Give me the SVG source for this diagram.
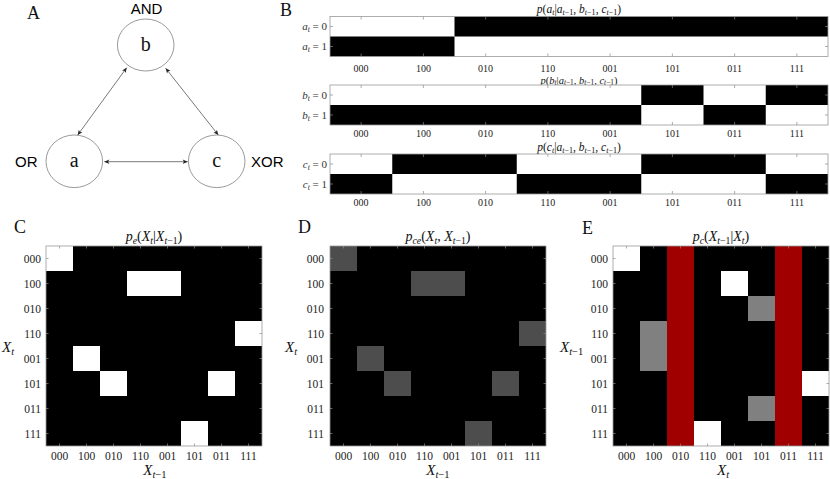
<svg xmlns="http://www.w3.org/2000/svg" xmlns:xlink="http://www.w3.org/1999/xlink" width="830" height="479" viewBox="0 0 830 479">
<style>
.tx{font-family:"Liberation Serif","Times New Roman",serif;fill:#111}
.sans{font-family:"Liberation Sans",Arial,sans-serif;fill:#000;font-size:15px}
.i{font-style:italic}
.sb{font-size:70%}
.lt{font-size:18px}
.bt{font-size:11.5px;text-anchor:middle}
.rl{font-size:11px;text-anchor:end;fill:#333}
.tk{font-size:10px;text-anchor:middle;fill:#222}
.mt{font-size:14px;text-anchor:middle}
.mk{font-size:11.5px;fill:#222}
.ax{font-size:15px}
.node{fill:#fff;stroke:#808080;stroke-width:0.8}
.nl{font-size:20px;text-anchor:middle}
.edge{stroke:#555;stroke-width:0.8;fill:none;marker-start:url(#ah);marker-end:url(#ah)}
.frame{fill:none;stroke:#999;stroke-width:0.8}
.tick{fill:none;stroke:#888;stroke-width:0.7}
.blk{fill:#000}
.wht{fill:#fff}
.g1{fill:#4d4d4d}
.g2{fill:#808080}
.red{fill:#a00000}
</style>
<defs>
<marker id="ah" viewBox="0 0 10 10" refX="10" refY="5" markerWidth="7" markerHeight="5" orient="auto-start-reverse" markerUnits="userSpaceOnUse">
<path d="M0,0.5 L10,5 L0,9.5 L2.5,5 z" fill="#222"/>
</marker>
<path id="stripTicks" class="tick" d="M31.125,0v3m62.25,-3v3m62.25,-3v3m62.25,-3v3m62.25,-3v3m62.25,-3v3m62.25,-3v3m62.25,-3v3 M31.125,40v-3m62.25,3v-3m62.25,3v-3m62.25,3v-3m62.25,3v-3m62.25,3v-3m62.25,3v-3m62.25,3v-3 M0,10h3m-3,20h3 M498,10h-3m3,20h-3"/>
<path id="matTicks" class="tick" d="M13.5,0v2.5m27,-2.5v2.5m27,-2.5v2.5m27,-2.5v2.5m27,-2.5v2.5m27,-2.5v2.5m27,-2.5v2.5m27,-2.5v2.5 M13.5,200v-2.5m27,2.5v-2.5m27,2.5v-2.5m27,2.5v-2.5m27,2.5v-2.5m27,2.5v-2.5m27,2.5v-2.5m27,2.5v-2.5 M0,12.5h2.5m-2.5,25h2.5m-2.5,25h2.5m-2.5,25h2.5m-2.5,25h2.5m-2.5,25h2.5m-2.5,25h2.5m-2.5,25h2.5 M216,12.5h-2.5m2.5,25h-2.5m2.5,25h-2.5m2.5,25h-2.5m2.5,25h-2.5m2.5,25h-2.5m2.5,25h-2.5m2.5,25h-2.5"/>
</defs>
<rect width="830" height="479" fill="#fff"/>

<!-- Panel A -->
<g id="panelA">
<text class="tx lt" x="27" y="19">A</text>
<g id="connectors">
<line class="edge" x1="126.7" y1="67.7" x2="77.7" y2="135"/>
<line class="edge" x1="165.7" y1="68.3" x2="218.3" y2="135"/>
<line class="edge" x1="104.3" y1="161.7" x2="187.7" y2="161.7"/>
</g>
<g id="node-b">
<ellipse class="node" cx="145.7" cy="45" rx="28.3" ry="26"/>
<text class="tx nl" x="145.7" y="51">b</text>
<text class="sans" x="146.5" y="13.5" text-anchor="middle">AND</text>
</g>
<g id="node-a">
<ellipse class="node" cx="74.3" cy="161.3" rx="28.3" ry="26.3"/>
<text class="tx nl" x="74.3" y="167">a</text>
<text class="sans" x="15" y="167">OR</text>
</g>
<g id="node-c">
<ellipse class="node" cx="216.7" cy="161.3" rx="28.3" ry="26.3"/>
<text class="tx nl" x="216.7" y="167">c</text>
<text class="sans" x="251" y="167">XOR</text>
</g>
</g>

<!-- Panel B -->
<g id="panelB">
<text class="tx lt" x="280" y="16">B</text>
<!-- strip 1 -->
<g id="strip-a">
<text class="tx bt" x="579" y="12.5"><tspan class="i">p</tspan>(<tspan class="i">a</tspan><tspan class="sb i" dy="2">t</tspan><tspan dy="-2">|</tspan><tspan class="i">a</tspan><tspan class="sb" dy="2"><tspan class="i">t</tspan>−1</tspan><tspan dy="-2">, </tspan><tspan class="i">b</tspan><tspan class="sb" dy="2"><tspan class="i">t</tspan>−1</tspan><tspan dy="-2">, </tspan><tspan class="i">c</tspan><tspan class="sb" dy="2"><tspan class="i">t</tspan>−1</tspan><tspan dy="-2">)</tspan></text>
<rect class="wht" x="330" y="16.5" width="498" height="40"/>
<rect class="blk" x="454.5" y="16.5" width="373.5" height="20"/>
<rect class="blk" x="330" y="36.5" width="124.5" height="20"/>
<use xlink:href="#stripTicks" x="330" y="16.5"/>
<rect class="frame" x="330" y="16.5" width="498" height="40"/>
<text class="tx rl" x="327" y="30"><tspan class="i">a</tspan><tspan class="sb i" dy="2">t</tspan><tspan dy="-2"> = 0</tspan></text>
<text class="tx rl" x="327" y="50"><tspan class="i">a</tspan><tspan class="sb i" dy="2">t</tspan><tspan dy="-2"> = 1</tspan></text>
<g class="tx tk"><text x="361.1" y="71.5">000</text><text x="423.4" y="71.5">100</text><text x="485.6" y="71.5">010</text><text x="547.9" y="71.5">110</text><text x="610.1" y="71.5">001</text><text x="672.4" y="71.5">101</text><text x="734.6" y="71.5">011</text><text x="796.9" y="71.5">111</text></g>
</g>
<!-- strip 2 -->
<g id="strip-b">
<text class="tx bt" x="579" y="84" style="font-size:10.5px"><tspan class="i">p</tspan>(<tspan class="i">b</tspan><tspan class="sb i" dy="1">t</tspan><tspan dy="-1">|</tspan><tspan class="i">a</tspan><tspan class="sb" dy="1"><tspan class="i">t</tspan>−1</tspan><tspan dy="-1">, </tspan><tspan class="i">b</tspan><tspan class="sb" dy="1"><tspan class="i">t</tspan>−1</tspan><tspan dy="-1">, </tspan><tspan class="i">c</tspan><tspan class="sb" dy="1"><tspan class="i">t</tspan>−1</tspan><tspan dy="-1">)</tspan></text>
<rect class="wht" x="330" y="85" width="498" height="40"/>
<rect class="blk" x="641.25" y="85" width="62.25" height="20"/>
<rect class="blk" x="765.75" y="85" width="62.25" height="20"/>
<rect class="blk" x="330" y="105" width="311.25" height="20"/>
<rect class="blk" x="703.5" y="105" width="62.25" height="20"/>
<use xlink:href="#stripTicks" x="330" y="85"/>
<rect class="frame" x="330" y="85" width="498" height="40"/>
<text class="tx rl" x="327" y="98.5"><tspan class="i">b</tspan><tspan class="sb i" dy="2">t</tspan><tspan dy="-2"> = 0</tspan></text>
<text class="tx rl" x="327" y="118.5"><tspan class="i">b</tspan><tspan class="sb i" dy="2">t</tspan><tspan dy="-2"> = 1</tspan></text>
<g class="tx tk"><text x="361.1" y="137">000</text><text x="423.4" y="137">100</text><text x="485.6" y="137">010</text><text x="547.9" y="137">110</text><text x="610.1" y="137">001</text><text x="672.4" y="137">101</text><text x="734.6" y="137">011</text><text x="796.9" y="137">111</text></g>
</g>
<!-- strip 3 -->
<g id="strip-c">
<text class="tx bt" x="579" y="150.5"><tspan class="i">p</tspan>(<tspan class="i">c</tspan><tspan class="sb i" dy="2">t</tspan><tspan dy="-2">|</tspan><tspan class="i">a</tspan><tspan class="sb" dy="2"><tspan class="i">t</tspan>−1</tspan><tspan dy="-2">, </tspan><tspan class="i">b</tspan><tspan class="sb" dy="2"><tspan class="i">t</tspan>−1</tspan><tspan dy="-2">, </tspan><tspan class="i">c</tspan><tspan class="sb" dy="2"><tspan class="i">t</tspan>−1</tspan><tspan dy="-2">)</tspan></text>
<rect class="wht" x="330" y="154" width="498" height="40"/>
<rect class="blk" x="392.25" y="154" width="124.5" height="20"/>
<rect class="blk" x="641.25" y="154" width="124.5" height="20"/>
<rect class="blk" x="330" y="174" width="62.25" height="20"/>
<rect class="blk" x="516.75" y="174" width="124.5" height="20"/>
<rect class="blk" x="765.75" y="174" width="62.25" height="20"/>
<use xlink:href="#stripTicks" x="330" y="154"/>
<rect class="frame" x="330" y="154" width="498" height="40"/>
<text class="tx rl" x="327" y="167.5"><tspan class="i">c</tspan><tspan class="sb i" dy="2">t</tspan><tspan dy="-2"> = 0</tspan></text>
<text class="tx rl" x="327" y="187.5"><tspan class="i">c</tspan><tspan class="sb i" dy="2">t</tspan><tspan dy="-2"> = 1</tspan></text>
<g class="tx tk"><text x="361.1" y="206">000</text><text x="423.4" y="206">100</text><text x="485.6" y="206">010</text><text x="547.9" y="206">110</text><text x="610.1" y="206">001</text><text x="672.4" y="206">101</text><text x="734.6" y="206">011</text><text x="796.9" y="206">111</text></g>
</g>
</g>

<!-- Panel C -->
<g id="panelC">
<text class="tx lt" x="14" y="233">C</text>
<text class="tx mt" x="154" y="241"><tspan class="i">p</tspan><tspan class="sb i" dy="3">e</tspan><tspan dy="-3">(</tspan><tspan class="i">X</tspan><tspan class="sb i" dy="3">t</tspan><tspan dy="-3">|</tspan><tspan class="i">X</tspan><tspan class="sb" dy="3"><tspan class="i">t</tspan>−1</tspan><tspan dy="-3">)</tspan></text>
<rect class="blk" x="46" y="246" width="216" height="200"/>
<rect class="wht" x="46" y="246" width="27" height="25"/>
<rect class="wht" x="127" y="271" width="54" height="25"/>
<rect class="wht" x="235" y="321" width="27" height="25"/>
<rect class="wht" x="73" y="346" width="27" height="25"/>
<rect class="wht" x="100" y="371" width="27" height="25"/>
<rect class="wht" x="208" y="371" width="27" height="25"/>
<rect class="wht" x="181" y="421" width="27" height="25"/>
<use xlink:href="#matTicks" x="46" y="246"/>
<rect class="frame" x="46" y="246" width="216" height="200"/>
<g class="tx mk" text-anchor="end"><text x="41" y="262.5">000</text><text x="41" y="287.5">100</text><text x="41" y="312.5">010</text><text x="41" y="337.5">110</text><text x="41" y="362.5">001</text><text x="41" y="387.5">101</text><text x="41" y="412.5">011</text><text x="41" y="437.5">111</text></g>
<g class="tx mk" text-anchor="middle"><text x="59.5" y="460">000</text><text x="86.5" y="460">100</text><text x="113.5" y="460">010</text><text x="140.5" y="460">110</text><text x="167.5" y="460">001</text><text x="194.5" y="460">101</text><text x="221.5" y="460">011</text><text x="248.5" y="460">111</text></g>
<text class="tx ax" x="2" y="352"><tspan class="i">X</tspan><tspan class="sb i" dy="3">t</tspan></text>
<text class="tx ax" x="155" y="475" text-anchor="middle"><tspan class="i">X</tspan><tspan class="sb" dy="3"><tspan class="i">t</tspan>−1</tspan></text>
</g>

<!-- Panel D -->
<g id="panelD">
<text class="tx lt" x="298" y="233">D</text>
<text class="tx mt" x="438" y="241"><tspan class="i">p</tspan><tspan class="sb i" dy="3">ce</tspan><tspan dy="-3">(</tspan><tspan class="i">X</tspan><tspan class="sb i" dy="3">t</tspan><tspan dy="-3">, </tspan><tspan class="i">X</tspan><tspan class="sb" dy="3"><tspan class="i">t</tspan>−1</tspan><tspan dy="-3">)</tspan></text>
<rect class="blk" x="330" y="246" width="216" height="200"/>
<rect class="g1" x="330" y="246" width="27" height="25"/>
<rect class="g1" x="411" y="271" width="54" height="25"/>
<rect class="g1" x="519" y="321" width="27" height="25"/>
<rect class="g1" x="357" y="346" width="27" height="25"/>
<rect class="g1" x="384" y="371" width="27" height="25"/>
<rect class="g1" x="492" y="371" width="27" height="25"/>
<rect class="g1" x="465" y="421" width="27" height="25"/>
<use xlink:href="#matTicks" x="330" y="246"/>
<rect class="frame" x="330" y="246" width="216" height="200"/>
<g class="tx mk" text-anchor="end"><text x="324" y="262.5">000</text><text x="324" y="287.5">100</text><text x="324" y="312.5">010</text><text x="324" y="337.5">110</text><text x="324" y="362.5">001</text><text x="324" y="387.5">101</text><text x="324" y="412.5">011</text><text x="324" y="437.5">111</text></g>
<g class="tx mk" text-anchor="middle"><text x="343.5" y="460">000</text><text x="370.5" y="460">100</text><text x="397.5" y="460">010</text><text x="424.5" y="460">110</text><text x="451.5" y="460">001</text><text x="478.5" y="460">101</text><text x="505.5" y="460">011</text><text x="532.5" y="460">111</text></g>
<text class="tx ax" x="285" y="352"><tspan class="i">X</tspan><tspan class="sb i" dy="3">t</tspan></text>
<text class="tx ax" x="438" y="475" text-anchor="middle"><tspan class="i">X</tspan><tspan class="sb" dy="3"><tspan class="i">t</tspan>−1</tspan></text>
</g>

<!-- Panel E -->
<g id="panelE">
<text class="tx lt" x="582" y="234">E</text>
<text class="tx mt" x="721" y="241"><tspan class="i">p</tspan><tspan class="sb i" dy="3">c</tspan><tspan dy="-3">(</tspan><tspan class="i">X</tspan><tspan class="sb" dy="3"><tspan class="i">t</tspan>−1</tspan><tspan dy="-3">|</tspan><tspan class="i">X</tspan><tspan class="sb i" dy="3">t</tspan><tspan dy="-3">)</tspan></text>
<rect class="blk" x="613" y="246" width="216" height="200"/>
<rect class="red" x="667" y="246" width="27" height="200"/>
<rect class="red" x="775" y="246" width="27" height="200"/>
<rect class="wht" x="613" y="246" width="27" height="25"/>
<rect class="wht" x="721" y="271" width="27" height="25"/>
<rect class="g2" x="748" y="296" width="27" height="25"/>
<rect class="g2" x="640" y="321" width="27" height="50"/>
<rect class="wht" x="802" y="371" width="27" height="25"/>
<rect class="g2" x="748" y="396" width="27" height="25"/>
<rect class="wht" x="694" y="421" width="27" height="25"/>
<use xlink:href="#matTicks" x="613" y="246"/>
<rect class="frame" x="613" y="246" width="216" height="200"/>
<g class="tx mk" text-anchor="end"><text x="608" y="262.5">000</text><text x="608" y="287.5">100</text><text x="608" y="312.5">010</text><text x="608" y="337.5">110</text><text x="608" y="362.5">001</text><text x="608" y="387.5">101</text><text x="608" y="412.5">011</text><text x="608" y="437.5">111</text></g>
<g class="tx mk" text-anchor="middle"><text x="626.5" y="460">000</text><text x="653.5" y="460">100</text><text x="680.5" y="460">010</text><text x="707.5" y="460">110</text><text x="734.5" y="460">001</text><text x="761.5" y="460">101</text><text x="788.5" y="460">011</text><text x="815.5" y="460">111</text></g>
<text class="tx ax" x="560" y="352"><tspan class="i">X</tspan><tspan class="sb" dy="3"><tspan class="i">t</tspan>−1</tspan></text>
<text class="tx ax" x="723" y="475" text-anchor="middle"><tspan class="i">X</tspan><tspan class="sb i" dy="3">t</tspan></text>
</g>
</svg>
